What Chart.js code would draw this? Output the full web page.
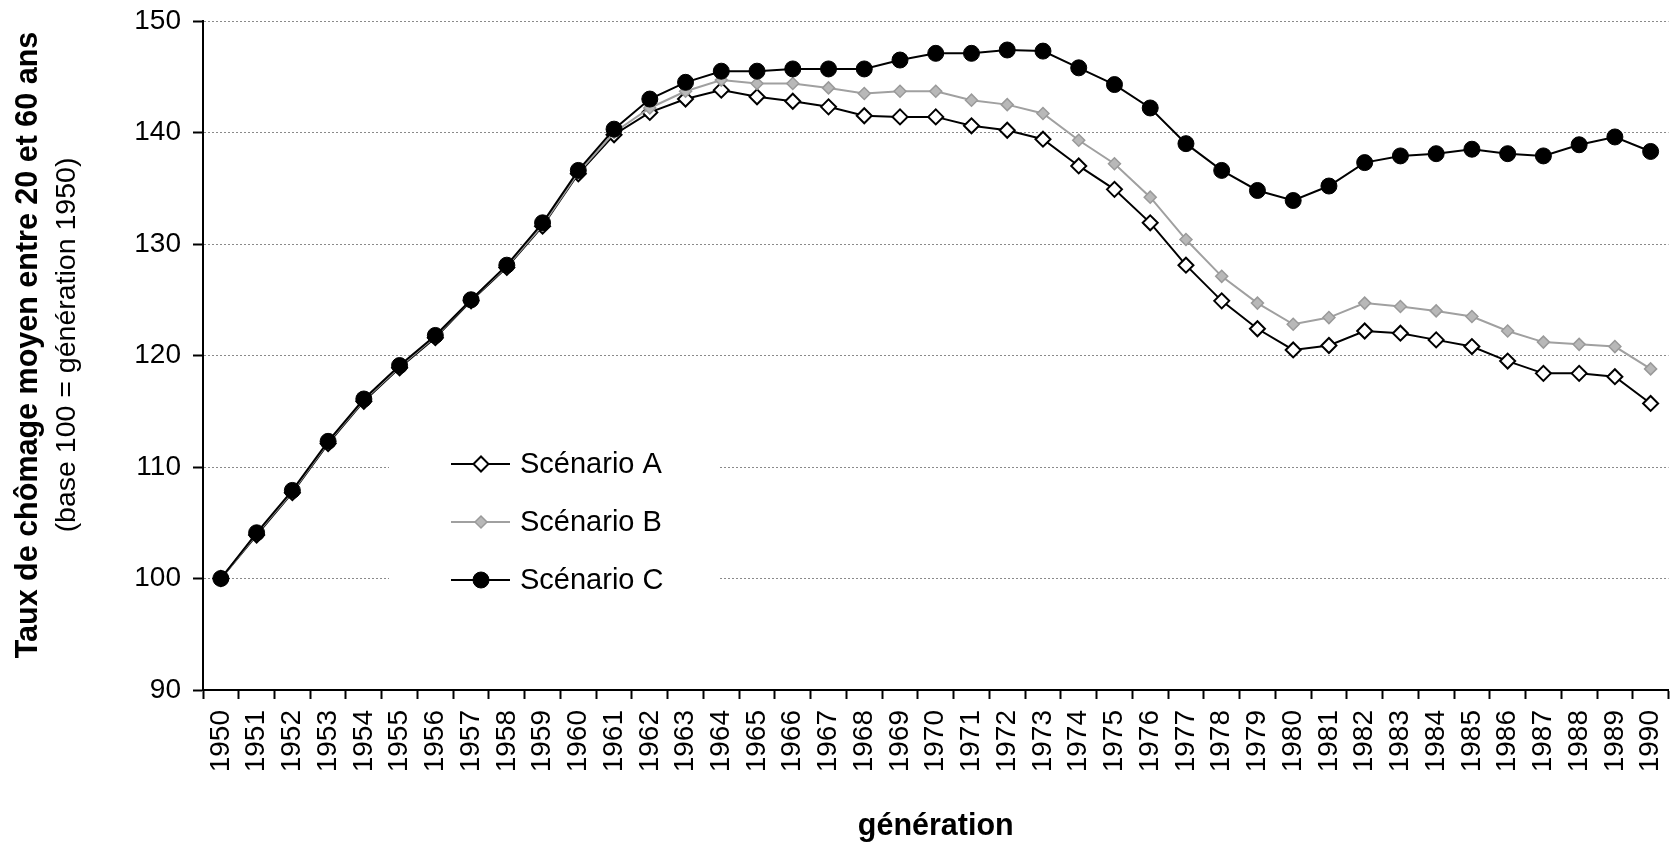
<!DOCTYPE html>
<html>
<head>
<meta charset="utf-8">
<script src="https://cdn.jsdelivr.net/npm/chart.js@4/dist/chart.umd.min.js"></script>
<style>
  html, body { margin: 0; padding: 0; background: #fff; }
  canvas { display: block; }
</style>
</head>
<body>
<canvas id="chart" width="1678" height="848"></canvas>
<script>
// generations 1950..1990
const generations = ['1950','1951','1952','1953','1954','1955','1956','1957','1958','1959',
  '1960','1961','1962','1963','1964','1965','1966','1967','1968','1969',
  '1970','1971','1972','1973','1974','1975','1976','1977','1978','1979',
  '1980','1981','1982','1983','1984','1985','1986','1987','1988','1989','1990'];

const scenarioA = [100.0, 103.9, 107.7, 112.1, 115.9, 118.9, 121.6, 124.9, 127.9, 131.6,
  136.3, 139.8, 141.8, 143.0, 143.8, 143.2, 142.8, 142.3, 141.5, 141.4,
  141.4, 140.6, 140.2, 139.4, 137.0, 134.9, 131.9, 128.1, 124.9, 122.4,
  120.5, 120.9, 122.2, 122.0, 121.4, 120.8, 119.5, 118.4, 118.4, 118.1, 115.7];

const scenarioB = [100.0, 104.0, 107.8, 112.2, 116.0, 119.0, 121.7, 125.0, 128.0, 131.7,
  136.4, 140.0, 142.2, 143.7, 144.7, 144.4, 144.4, 144.0, 143.5, 143.7,
  143.7, 142.9, 142.5, 141.7, 139.3, 137.2, 134.2, 130.4, 127.1, 124.7,
  122.8, 123.4, 124.7, 124.4, 124.0, 123.5, 122.2, 121.2, 121.0, 120.8, 118.8];

const scenarioC = [100.0, 104.1, 107.9, 112.3, 116.1, 119.1, 121.8, 125.0, 128.1, 131.9,
  136.6, 140.3, 143.0, 144.5, 145.5, 145.5, 145.7, 145.7, 145.7, 146.5,
  147.1, 147.1, 147.4, 147.3, 145.8, 144.3, 142.2, 139.0, 136.6, 134.8,
  133.9, 135.2, 137.3, 137.9, 138.1, 138.5, 138.1, 137.9, 138.9, 139.6, 138.3];

const yTicks = [90, 100, 110, 120, 130, 140, 150];
const seriesNames = ['Scénario A', 'Scénario B', 'Scénario C'];
const yTitle = 'Taux de chômage moyen entre 20 et 60 ans';
const ySubTitle = '(base 100 = génération 1950)';
const xTitle = 'génération';

const FONT = '"Liberation Sans", Arial, sans-serif';
Chart.defaults.font.family = FONT;
Chart.defaults.color = '#000';

// legend drawn inside the plot, on a white box that hides the grid
const insideLegend = {
  id: 'insideLegend',
  beforeDatasetsDraw(chart) {
    const {ctx, chartArea: a} = chart;
    ctx.save();
    ctx.fillStyle = '#fff';
    ctx.fillRect(a.left + 186, a.top + 410, 331, 185);
    ctx.restore();
  },
  afterDatasetsDraw(chart) {
    const {ctx, chartArea: a} = chart;
    const x0 = a.left + 248, x1 = a.left + 307, xm = a.left + 278;
    const rows = [a.top + 443, a.top + 501, a.top + 559];
    ctx.save();
    chart.data.datasets.forEach((ds, i) => {
      const y = rows[i];
      ctx.strokeStyle = ds.borderColor;
      ctx.lineWidth = ds.borderWidth;
      ctx.beginPath(); ctx.moveTo(x0, y); ctx.lineTo(x1, y); ctx.stroke();
      ctx.fillStyle = ds.pointBackgroundColor;
      ctx.strokeStyle = ds.pointBorderColor;
      ctx.lineWidth = ds.pointBorderWidth;
      const r = ds.pointRadius;
      ctx.beginPath();
      if (ds.pointStyle === 'circle') {
        ctx.arc(xm, y, r, 0, Math.PI * 2);
      } else {
        ctx.moveTo(xm - r, y); ctx.lineTo(xm, y - r); ctx.lineTo(xm + r, y); ctx.lineTo(xm, y + r); ctx.closePath();
      }
      ctx.fill(); ctx.stroke();
      ctx.fillStyle = '#000';
      ctx.font = '29px ' + FONT;
      ctx.textAlign = 'left';
      ctx.textBaseline = 'middle';
      ctx.fillText(ds.label, a.left + 317, y + 1);
    });
    ctx.restore();
  },
  afterDraw(chart) {
    const {ctx, chartArea: a} = chart;
    ctx.save();
    ctx.fillStyle = '#000';
    ctx.textAlign = 'center';
    ctx.textBaseline = 'alphabetic';
    const cy = 345;
    ctx.save();
    ctx.translate(37, cy); ctx.rotate(-Math.PI / 2);
    ctx.font = 'bold 30.5px ' + FONT;
    ctx.fillText(yTitle, 0, 0);
    ctx.restore();
    ctx.save();
    ctx.translate(75, cy); ctx.rotate(-Math.PI / 2);
    ctx.font = '28.5px ' + FONT;
    ctx.fillText(ySubTitle, 0, 0);
    ctx.restore();
    ctx.font = 'bold 30.5px ' + FONT;
    ctx.fillText(xTitle, (a.left + a.right) / 2, 835);
    ctx.restore();
  }
};

new Chart(document.getElementById('chart'), {
  type: 'line',
  data: {
    labels: generations,
    datasets: [
      { label: seriesNames[0], data: scenarioA, order: 2,
        borderColor: '#000', borderWidth: 2,
        pointStyle: 'rectRot', pointRadius: 7.5,
        pointBackgroundColor: '#fff', pointBorderColor: '#000', pointBorderWidth: 2 },
      { label: seriesNames[1], data: scenarioB, order: 1,
        borderColor: '#a0a0a0', borderWidth: 2,
        pointStyle: 'rectRot', pointRadius: 6,
        pointBackgroundColor: '#b8b8b8', pointBorderColor: '#9a9a9a', pointBorderWidth: 1.5 },
      { label: seriesNames[2], data: scenarioC, order: 0,
        borderColor: '#000', borderWidth: 2,
        pointStyle: 'circle', pointRadius: 8,
        pointBackgroundColor: '#000', pointBorderColor: '#000', pointBorderWidth: 1 }
    ]
  },
  options: {
    responsive: false,
    animation: false,
    events: [],
    layout: { padding: { top: 21, right: 3, left: 0, bottom: 0 } },
    elements: { line: { tension: 0 } },
    plugins: { legend: { display: false }, tooltip: { enabled: false } },
    scales: {
      x: {
        offset: true,
        grid: { offset: true, drawOnChartArea: false, tickLength: 9, tickColor: '#000', tickWidth: 2 },
        border: { color: '#000', width: 2 },
        ticks: { autoSkip: false, minRotation: 90, maxRotation: 90, padding: 11, color: '#000', font: { size: 28 } },
        afterFit(scale) {
          scale.height = 158;
          scale.paddingLeft = 0; scale.paddingRight = 0;
        }
      },
      y: {
        min: 90, max: 150,
        afterBuildTicks(scale) { scale.ticks = yTicks.map(v => ({ value: v })); },
        grid: { color: '#8a8a8a', lineWidth: 1, tickLength: 10, tickColor: '#000', tickWidth: 2, tickBorderDash: [] },
        border: { color: '#000', width: 2, dash: [2, 2] },
        ticks: { padding: 12, color: '#000', font: { size: 28 } },
        afterFit(scale) {
          scale.width = 203;
          scale.paddingTop = 0; scale.paddingBottom = 0;
        }
      }
    }
  },
  plugins: [insideLegend]
});
</script>
</body>
</html>
